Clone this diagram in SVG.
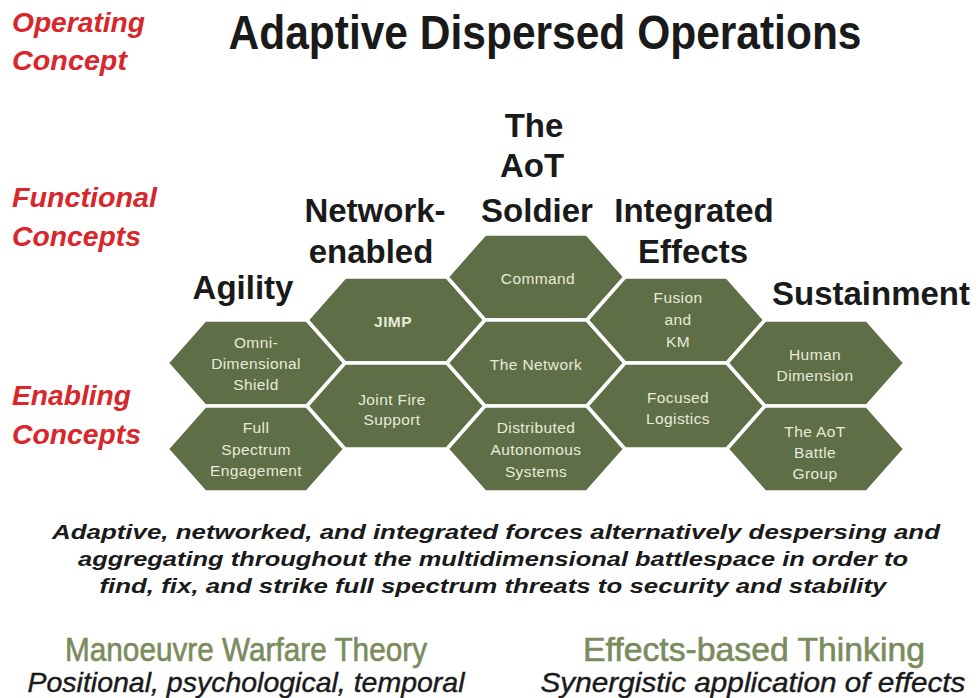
<svg xmlns="http://www.w3.org/2000/svg" xmlns:xlink="http://www.w3.org/1999/xlink" width="979" height="698" viewBox="0 0 979 698">
<style>
.red{font-family:"Liberation Sans",Arial,sans-serif;font-weight:bold;font-style:italic;fill:#d9262b;font-size:28px}
.head{font-family:"Liberation Sans",Arial,sans-serif;font-weight:bold;fill:#1a1a1a;font-size:33px;text-anchor:middle}
.hx{fill:#5e6e46;stroke:#ffffff;stroke-width:3.5;stroke-linejoin:miter}
.ht{font-family:"Liberation Sans",Arial,sans-serif;fill:#e9eadb;font-size:15.5px;letter-spacing:0.4px;text-anchor:middle}
.para{font-family:"Liberation Sans",Arial,sans-serif;font-weight:bold;font-style:italic;fill:#1a1a1a;font-size:21px;text-anchor:middle}
.theory{font-family:"Liberation Sans",Arial,sans-serif;fill:#7b8b5e;stroke:#7b8b5e;stroke-width:0.6;font-size:33px;text-anchor:middle}
.sub{font-family:"Liberation Sans",Arial,sans-serif;font-style:italic;fill:#1a1a1a;stroke:#1a1a1a;stroke-width:0.4;font-size:28px;text-anchor:middle}
</style>
<defs>
<polygon id="hex" points="-89,0 -51,-43 51,-43 89,0 51,43 -51,43"/>
</defs>
<rect width="979" height="698" fill="#ffffff"/>

<g id="labels">
<text class="red" x="12" y="32" textLength="133" lengthAdjust="spacingAndGlyphs" font-size="32">Operating</text>
<text class="red" x="12" y="70" textLength="115" lengthAdjust="spacingAndGlyphs" font-size="32">Concept</text>
<text class="red" x="12" y="207" textLength="145" lengthAdjust="spacingAndGlyphs">Functional</text>
<text class="red" x="12" y="246" textLength="129" lengthAdjust="spacingAndGlyphs">Concepts</text>
<text class="red" x="12" y="405" textLength="119" lengthAdjust="spacingAndGlyphs">Enabling</text>
<text class="red" x="12" y="444" textLength="129" lengthAdjust="spacingAndGlyphs">Concepts</text>
<text x="545" y="49" font-family="Liberation Sans, Arial, sans-serif" font-weight="bold" font-size="49" fill="#1a1a1a" text-anchor="middle" textLength="633" lengthAdjust="spacingAndGlyphs">Adaptive Dispersed Operations</text>
</g>

<g id="functional-labels">
<text class="head" x="243" y="299">Agility</text>
<text class="head" x="375" y="222">Network-</text>
<text class="head" x="371" y="263">enabled</text>
<text class="head" x="534" y="137">The</text>
<text class="head" x="532" y="177">AoT</text>
<text class="head" x="537" y="222">Soldier</text>
<text class="head" x="694" y="222">Integrated</text>
<text class="head" x="693" y="263">Effects</text>
<text class="head" x="871" y="305">Sustainment</text>
</g>

<g id="omni">
<use xlink:href="#hex" class="hx" x="256" y="363"/>
<text class="ht" x="256" y="348">Omni-</text>
<text class="ht" x="256" y="369">Dimensional</text>
<text class="ht" x="256" y="390">Shield</text>
</g>
<g id="fullspectrum">
<use xlink:href="#hex" class="hx" x="256" y="449"/>
<text class="ht" x="256" y="433">Full</text>
<text class="ht" x="256" y="455">Spectrum</text>
<text class="ht" x="256" y="476">Engagement</text>
</g>
<g id="jimp">
<use xlink:href="#hex" class="hx" x="396" y="320"/>
<text class="ht" x="393" y="327" font-weight="bold">JIMP</text>
</g>
<g id="jointfire">
<use xlink:href="#hex" class="hx" x="396" y="406"/>
<text class="ht" x="392" y="405">Joint Fire</text>
<text class="ht" x="392" y="425">Support</text>
</g>
<g id="command">
<use xlink:href="#hex" class="hx" x="536" y="277"/>
<text class="ht" x="538" y="284">Command</text>
</g>
<g id="network">
<use xlink:href="#hex" class="hx" x="536" y="363"/>
<text class="ht" x="536" y="370">The Network</text>
</g>
<g id="distributed">
<use xlink:href="#hex" class="hx" x="536" y="449"/>
<text class="ht" x="536" y="433">Distributed</text>
<text class="ht" x="536" y="455">Autonomous</text>
<text class="ht" x="536" y="477">Systems</text>
</g>
<g id="fusion">
<use xlink:href="#hex" class="hx" x="676" y="320"/>
<text class="ht" x="678" y="303">Fusion</text>
<text class="ht" x="678" y="325">and</text>
<text class="ht" x="678" y="347">KM</text>
</g>
<g id="logistics">
<use xlink:href="#hex" class="hx" x="676" y="406"/>
<text class="ht" x="678" y="403">Focused</text>
<text class="ht" x="678" y="424">Logistics</text>
</g>
<g id="human">
<use xlink:href="#hex" class="hx" x="816" y="363"/>
<text class="ht" x="815" y="360">Human</text>
<text class="ht" x="815" y="381">Dimension</text>
</g>
<g id="battlegroup">
<use xlink:href="#hex" class="hx" x="816" y="449"/>
<text class="ht" x="815" y="437">The AoT</text>
<text class="ht" x="815" y="458">Battle</text>
<text class="ht" x="815" y="479">Group</text>
</g>

<g id="connectors"></g>

<g id="description">
<text class="para" x="496" y="539" textLength="888" lengthAdjust="spacingAndGlyphs">Adaptive, networked, and integrated forces alternatively despersing and</text>
<text class="para" x="493" y="566" textLength="830" lengthAdjust="spacingAndGlyphs">aggregating throughout the multidimensional battlespace in order to</text>
<text class="para" x="493" y="593" textLength="787" lengthAdjust="spacingAndGlyphs">find, fix, and strike full spectrum threats to security and stability</text>
</g>

<g id="theories">
<text class="theory" x="246" y="661" textLength="362" lengthAdjust="spacingAndGlyphs">Manoeuvre Warfare Theory</text>
<text class="theory" x="754" y="661" textLength="342" lengthAdjust="spacingAndGlyphs">Effects-based Thinking</text>
<text class="sub" x="246" y="692" textLength="437" lengthAdjust="spacingAndGlyphs">Positional, psychological, temporal</text>
<text class="sub" x="753" y="692" textLength="425" lengthAdjust="spacingAndGlyphs">Synergistic application of effects</text>
</g>
</svg>
